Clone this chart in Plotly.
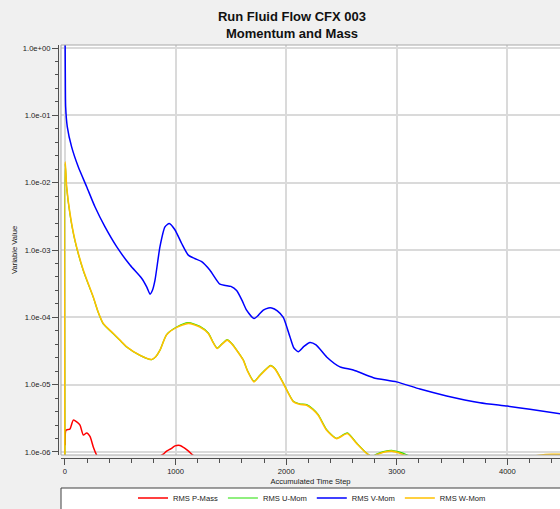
import plotly.graph_objects as go

# ---- residual histories (accumulated time step, RMS residual) ----
p_mass_steps = [1, 9, 45, 75, 106, 136, 166, 196, 226, 256, 286, 350, 500, 700, 850,
                889, 919, 960, 995, 1040, 1085, 1120, 1145, 1250, 1600, 2500, 3500, 4480]
p_mass_vals = [1.26e-6, 2.1e-6, 2.2e-6, 2.97e-6, 2.8e-6, 2.5e-6, 1.78e-6, 1.92e-6, 1.7e-6,
               1.19e-6, 0.9e-6, 0.6e-6, 0.45e-6, 0.6e-6, 0.85e-6,
               0.93e-6, 1.03e-6, 1.12e-6, 1.23e-6, 1.25e-6, 1.13e-6, 1.02e-6, 0.93e-6,
               0.7e-6, 0.5e-6, 0.4e-6, 0.35e-6, 0.3e-6]

v_mom_steps = [1, 3, 6, 21, 60, 120, 196, 271, 362, 467, 588, 693, 740, 769, 790, 814,
               859, 904, 943, 994, 1055, 1115, 1170, 1236, 1311, 1401, 1450, 1500, 1552,
               1600, 1642, 1709, 1750, 1793, 1840, 1869, 1920, 1974, 2034, 2070, 2110,
               2160, 2215, 2270, 2366, 2486, 2607, 2788, 2999, 3210, 3451, 3752, 3999,
               4204, 4480]
v_mom_vals = [1.5, 0.42, 0.134, 0.0676, 0.034, 0.0172, 0.0087, 0.00438, 0.0022, 0.00112,
              0.000597, 0.00038, 0.00028, 0.000221, 0.00025, 0.000357,
              0.00112, 0.0022, 0.00248, 0.002, 0.00125, 0.00084, 0.00075, 0.00067,
              0.0005, 0.00031, 0.000298, 0.000288, 0.00025,
              0.00018, 0.000128, 0.000096, 0.000108, 0.000128, 0.000138, 0.000138,
              0.000125, 0.0001, 0.0000515, 0.000035, 0.0000309,
              0.000037, 0.0000424, 0.000039, 0.0000258, 0.0000184, 0.0000165,
              0.0000127, 0.000011, 0.0000086, 0.0000068, 0.0000054, 0.0000048,
              0.0000043, 0.0000037]

w_mom_steps = [1, 2, 15, 45, 90, 166, 256, 300, 346, 437, 497, 558, 678, 784, 820, 859,
               919, 1010, 1115, 1220, 1296, 1340, 1377, 1420, 1467, 1510, 1552, 1612,
               1650, 1709, 1760, 1859, 1900, 1974, 2064, 2120, 2185, 2240, 2290, 2366,
               2456, 2553, 2637, 2728, 2775, 2818, 2880, 2954, 3010, 3060, 3150, 3400,
               3800, 4100, 4306, 4400, 4480]
w_mom_vals = [1e-8, 0.0204, 0.0087, 0.0035, 0.0014, 0.0005, 0.0002, 0.00012, 0.000081,
              0.0000576, 0.0000458, 0.0000364, 0.0000274, 0.0000236, 0.000026, 0.0000325,
              0.000055, 0.000071, 0.0000812, 0.000072, 0.0000576, 0.000042, 0.0000345,
              0.00004, 0.0000458, 0.00004, 0.0000325, 0.0000231,
              0.000016, 0.000011, 0.0000135, 0.000019, 0.000017, 0.0000104, 0.0000056,
              0.0000051, 0.00000496, 0.0000043, 0.0000035, 0.0000021,
              0.00000158, 0.00000188, 0.00000134, 0.00000095, 0.00000085, 0.00000091,
              0.00000099, 0.00000103, 0.00000098, 0.00000091, 0.0000008, 0.0000007,
              0.00000072, 0.0000008, 0.0000009, 0.00000092, 0.000000925]

u_mom_steps = [1, 2, 15, 45, 90, 166, 256, 300, 346, 437, 497, 558, 678, 784, 820, 859,
               919, 1010, 1115, 1220, 1296, 1340, 1377, 1420, 1467, 1510, 1552, 1612,
               1650, 1709, 1760, 1859, 1900, 1974, 2064, 2120, 2185, 2240, 2290, 2366,
               2456, 2553, 2637, 2728, 2775, 2818, 2880, 2954, 3010, 3090, 3150, 3400,
               3800, 4100, 4480]
u_mom_vals = [1e-8, 0.019, 0.0085, 0.0034, 0.00138, 0.00049, 0.000198, 0.000119, 0.00008,
              0.000057, 0.0000455, 0.0000362, 0.0000272, 0.0000235, 0.0000259, 0.0000326,
              0.0000555, 0.0000718, 0.0000832, 0.0000735, 0.0000585, 0.0000425, 0.0000348,
              0.0000405, 0.0000465, 0.0000405, 0.0000328, 0.0000234,
              0.0000162, 0.0000112, 0.0000137, 0.0000194, 0.0000173, 0.0000106, 0.0000057,
              0.0000052, 0.00000505, 0.0000044, 0.0000036, 0.00000215,
              0.0000016, 0.00000192, 0.00000136, 0.00000096, 0.00000086, 0.00000093,
              0.00000101, 0.00000106, 0.00000101, 0.00000091, 0.00000082, 0.0000007,
              0.0000007, 0.00000075, 0.00000085]

x_tick_vals = [0, 1000, 2000, 3000, 4000]
x_tick_text = ["0", "1000", "2000", "3000", "4000"]
y_tick_vals = [1e-6, 1e-5, 1e-4, 1e-3, 1e-2, 1e-1, 1e0]
y_tick_text = ["1.0e-06", "1.0e-05", "1.0e-04", "1.0e-03", "1.0e-02", "1.0e-01", "1.0e+00"]

# ---- figure geometry (pixels) ----
W, H = 560, 509
ML, MR, MT, MB = 58, 0, 45, 51
PW = W - ML - MR
PH = H - MT - MB
GAP = 3  # gap between axis lines and the plot frame

SMALL = dict(family="Liberation Sans, Arial, sans-serif", size=7.6, color="#1a1a1a")
AXIS_COLOR = "#505050"

fig = go.Figure()
series = [
    ("RMS P-Mass", p_mass_steps, p_mass_vals, "#ff0000", 1.5),
    ("RMS U-Mom", u_mom_steps, u_mom_vals, "#22e000", 1.2),
    ("RMS V-Mom", v_mom_steps, v_mom_vals, "#0000ff", 1.5),
    ("RMS W-Mom", w_mom_steps, w_mom_vals, "#ffc000", 1.6),
]
for name, xs, ys, color, width in series:
    fig.add_trace(go.Scatter(x=xs, y=ys, mode="lines", name=name,
                             line=dict(color=color, width=width,
                                       shape="spline", smoothing=0.6)))

fig.update_layout(
    width=W, height=H,
    margin=dict(l=ML, r=MR, t=MT, b=MB, pad=0, autoexpand=False),
    paper_bgcolor="#f0f0f0",
    plot_bgcolor="white",
    title=dict(text="<b>Run Fluid Flow CFX 003<br>Momentum and Mass</b>",
               x=292 / W, xref="container", xanchor="center",
               y=1 - 21 / H, yref="container", yanchor="top",
               font=dict(family="Liberation Sans, Arial, sans-serif", size=13, color="#111111")),
    xaxis=dict(
        range=[-36, 4476], domain=[GAP / PW, 1], anchor="free", position=0,
        showline=True, linecolor=AXIS_COLOR, linewidth=1,
        ticks="outside", ticklen=6, tickcolor=AXIS_COLOR,
        tickmode="array", tickvals=x_tick_vals, ticktext=x_tick_text, tickfont=SMALL,
        showgrid=True, gridcolor="#dadada", gridwidth=1.5, zeroline=False,
        minor=dict(ticks="outside", ticklen=4, tickcolor=AXIS_COLOR,
                   tickmode="linear", tick0=0, dtick=200, showgrid=False),
        title=dict(text="Accumulated Time Step", font=SMALL, standoff=3),
    ),
    yaxis=dict(
        type="log", range=[-6.045, 0.045], domain=[GAP / PH, 1], anchor="free", position=0,
        showline=True, linecolor=AXIS_COLOR, linewidth=1,
        ticks="outside", ticklen=6, tickcolor=AXIS_COLOR,
        tickmode="array", tickvals=y_tick_vals, ticktext=y_tick_text, tickfont=SMALL,
        showgrid=True, gridcolor="#dadada", gridwidth=1.5, zeroline=False,
        minor=dict(ticks="outside", ticklen=3, tickcolor=AXIS_COLOR,
                   tickmode="linear", tick0=0, dtick=0.2, showgrid=False),
        title=dict(text="Variable Value", font=SMALL, standoff=3),
    ),
    legend=dict(orientation="h", x=(312 - ML) / PW, xanchor="center",
                y=(-(498 - (H - MB))) / PH, yanchor="middle",
                bgcolor="rgba(0,0,0,0)", font=SMALL, itemwidth=30,
                tracegroupgap=0),
    shapes=[
        # plot frame
        dict(type="rect", xref="paper", yref="paper", x0=GAP / PW, x1=1.02,
             y0=GAP / PH, y1=1, line=dict(color="#a8a8a8", width=1), layer="above"),
        # legend box
        dict(type="rect", xref="paper", yref="paper", x0=GAP / PW, x1=1.05,
             y0=-(488 - (H - MB)) / PH, y1=-0.4, fillcolor="white",
             line=dict(color="#404040", width=1), layer="below"),
    ],
    showlegend=True,
)

fig.write_html("out.html")
